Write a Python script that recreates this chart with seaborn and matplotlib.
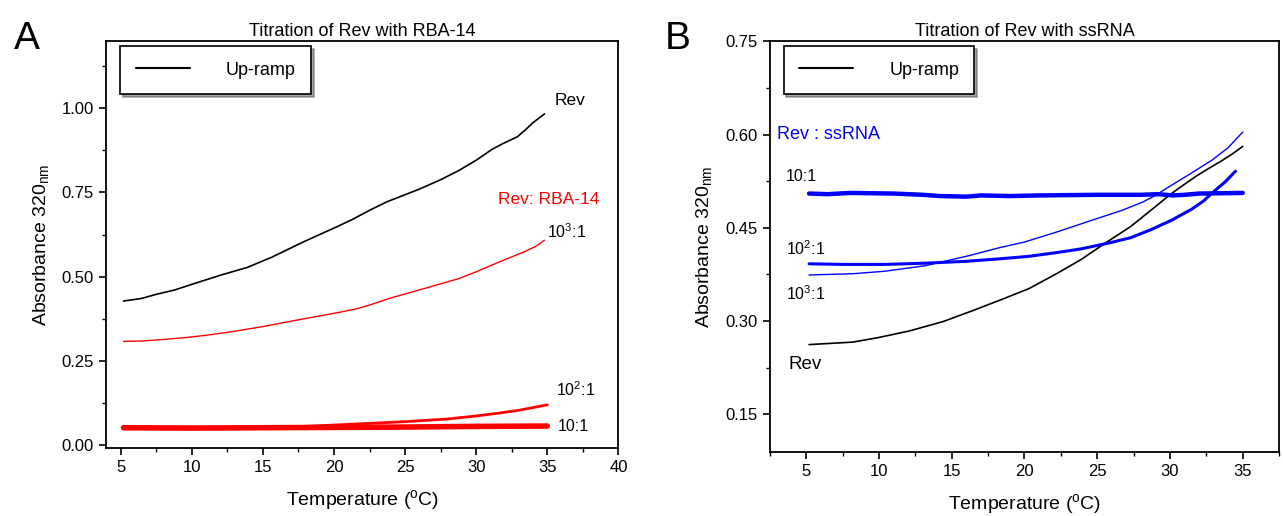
import numpy as np
import pandas as pd
import matplotlib
matplotlib.use('Agg')
import matplotlib.pyplot as plt
from matplotlib.lines import Line2D
from matplotlib.ticker import MultipleLocator, FormatStrFormatter
import seaborn as sns

# Panel A: Rev titrated with RBA-14
a_rev_t = [5.2, 6.5, 7.5, 8.8, 10.1, 12.1, 13.9, 15.6, 17.9, 20.2, 21.3, 22.5, 23.7, 26.0, 27.5, 28.8, 30.0, 31.1, 31.9, 32.9, 33.5, 34.0, 34.8]
a_rev_y = [0.427, 0.435, 0.447, 0.460, 0.478, 0.505, 0.527, 0.557, 0.604, 0.648, 0.670, 0.697, 0.722, 0.760, 0.788, 0.816, 0.846, 0.878, 0.896, 0.916, 0.938, 0.958, 0.984]
a_1e3_t = [5.2, 6.5, 8.1, 9.5, 11.0, 12.7, 15.0, 17.6, 20.2, 21.5, 22.5, 23.9, 26.0, 28.8, 30.0, 31.1, 32.3, 33.4, 34.2, 34.8]
a_1e3_y = [0.307, 0.308, 0.313, 0.318, 0.325, 0.335, 0.351, 0.372, 0.392, 0.403, 0.415, 0.435, 0.460, 0.494, 0.514, 0.534, 0.555, 0.574, 0.590, 0.608]
a_1e2_t = [5.2, 10.0, 15.0, 17.0, 20.0, 22.5, 25.0, 28.0, 30.0, 31.5, 33.0, 34.0, 35.0]
a_1e2_y = [0.050, 0.050, 0.050, 0.052, 0.058, 0.063, 0.068, 0.076, 0.085, 0.093, 0.102, 0.110, 0.118]
a_10_t = [5.2, 10.0, 15.0, 20.0, 25.0, 30.0, 35.0]
a_10_y = [0.050, 0.049, 0.050, 0.051, 0.052, 0.054, 0.055]

# Panel B: Rev titrated with ssRNA
b_rev_t = [5.2, 8.2, 9.9, 12.1, 14.4, 16.6, 18.8, 20.3, 22.2, 23.9, 25.6, 27.3, 29.0, 30.1, 31.0, 31.8, 32.7, 33.5, 34.3, 35.0]
b_rev_y = [0.262, 0.266, 0.273, 0.284, 0.299, 0.318, 0.338, 0.352, 0.376, 0.399, 0.426, 0.452, 0.484, 0.505, 0.520, 0.533, 0.546, 0.557, 0.569, 0.581]
b_1e3_t = [5.2, 8.2, 10.4, 13.2, 16.0, 18.3, 20.0, 22.2, 24.5, 26.7, 28.1, 29.0, 29.8, 31.2, 32.9, 34.0, 35.0]
b_1e3_y = [0.374, 0.376, 0.380, 0.389, 0.404, 0.418, 0.427, 0.443, 0.461, 0.478, 0.491, 0.502, 0.514, 0.534, 0.559, 0.579, 0.604]
b_1e2_t = [5.2, 7.6, 10.4, 13.2, 16.0, 18.3, 20.3, 22.2, 23.9, 25.9, 27.3, 28.7, 30.1, 31.5, 32.3, 32.9, 33.8, 34.5]
b_1e2_y = [0.392, 0.391, 0.391, 0.393, 0.396, 0.400, 0.404, 0.410, 0.416, 0.426, 0.434, 0.447, 0.462, 0.480, 0.493, 0.506, 0.524, 0.541]
b_10_t = [5.2, 6.5, 8.0, 11.0, 13.0, 14.2, 16.0, 17.0, 19.0, 21.0, 25.0, 28.0, 29.2, 30.2, 31.0, 32.0, 35.0]
b_10_y = [0.505, 0.504, 0.506, 0.505, 0.503, 0.501, 0.500, 0.502, 0.501, 0.502, 0.503, 0.503, 0.504, 0.502, 0.503, 0.505, 0.506]

sns.set_style("ticks")
plt.rcParams['font.family'] = ['Liberation Sans', 'DejaVu Sans']
plt.rcParams['mathtext.fontset'] = 'custom'
plt.rcParams['mathtext.rm'] = 'Liberation Sans'
plt.rcParams['mathtext.it'] = 'Liberation Sans'
plt.rcParams['text.color'] = 'black'
plt.rcParams['axes.labelcolor'] = 'black'
plt.rcParams['xtick.color'] = 'black'
plt.rcParams['ytick.color'] = 'black'

fig = plt.figure(figsize=(12.83, 5.16), dpi=100)
axA = fig.add_axes([0.083, 0.132, 0.399, 0.788])
axB = fig.add_axes([0.600, 0.125, 0.397, 0.795])

RED = '#ff0000'
BLUE = '#0000ff'

def draw(ax, t, y, color, lw):
    sns.lineplot(x=t, y=y, ax=ax, color=color, lw=lw, sort=False, estimator=None)

draw(axA, a_rev_t, a_rev_y, 'black', 1.2)
draw(axA, a_1e3_t, a_1e3_y, RED, 1.0)
draw(axA, a_1e2_t, a_1e2_y, RED, 2.0)
draw(axA, a_10_t, a_10_y, RED, 4.0)

draw(axB, b_rev_t, b_rev_y, 'black', 1.2)
draw(axB, b_1e3_t, b_1e3_y, BLUE, 1.0)
draw(axB, b_1e2_t, b_1e2_y, BLUE, 2.2)
draw(axB, b_10_t, b_10_y, BLUE, 3.2)

axA.set_xlim(4, 40)
axA.set_ylim(-0.01, 1.2)
axA.xaxis.set_major_locator(MultipleLocator(5))
axA.xaxis.set_minor_locator(MultipleLocator(2.5))
axA.yaxis.set_major_locator(MultipleLocator(0.25))
axA.yaxis.set_minor_locator(MultipleLocator(0.125))

axB.set_xlim(2.5, 37.5)
axB.set_ylim(0.09, 0.75)
axB.set_xticks([5, 10, 15, 20, 25, 30, 35])
axB.xaxis.set_minor_locator(MultipleLocator(2.5))
axB.yaxis.set_major_locator(MultipleLocator(0.15))
axB.yaxis.set_minor_locator(MultipleLocator(0.075))

for ax, title in [(axA, 'Titration of Rev with RBA-14'), (axB, 'Titration of Rev with ssRNA')]:
    ax.yaxis.set_major_formatter(FormatStrFormatter('%.2f'))
    for s in ax.spines.values():
        s.set_visible(True)
        s.set_linewidth(1.3)
        s.set_color('black')
    ax.tick_params(which='major', direction='out', length=5, width=1.2, labelsize=12, pad=4)
    ax.tick_params(which='minor', direction='out', length=3, width=1.0)
    ax.set_title(title, fontsize=13, pad=4)
    ax.set_xlabel('Temperature ($^{\\rm o}$C)', fontsize=14, labelpad=9)
    ax.set_ylabel('Absorbance 320$_{\\rm nm}$', fontsize=14, labelpad=8)
    h = [Line2D([0], [0], color='black', lw=1.5)]
    leg = ax.legend(h, ['Up-ramp'], loc='upper left', bbox_to_anchor=(0.027, 0.988),
                    fontsize=13, frameon=True, fancybox=False, shadow=True,
                    edgecolor='black', handlelength=3.0, handletextpad=2.0,
                    borderpad=0.85, borderaxespad=0)
    leg.get_frame().set_linewidth(1.2)
    leg.get_frame().set_alpha(1)

# panel A annotations
axA.text(35.5, 1.01, 'Rev', fontsize=12.5)
axA.text(31.5, 0.715, 'Rev: RBA-14', fontsize=12.5, color=RED)
axA.text(35.0, 0.615, '10$^{3}$:1', fontsize=11.5)
axA.text(35.6, 0.145, '10$^{2}$:1', fontsize=11.5)
axA.text(35.7, 0.040, '10:1', fontsize=11.5)

# panel B annotations
axB.text(3.0, 0.592, 'Rev : ssRNA', fontsize=13, color=BLUE)
axB.text(3.6, 0.525, '10:1', fontsize=11.5)
axB.text(3.6, 0.406, '10$^{2}$:1', fontsize=11.5)
axB.text(3.6, 0.334, '10$^{3}$:1', fontsize=11.5)
axB.text(3.8, 0.222, 'Rev', fontsize=13.5)

fig.text(0.011, 0.905, 'A', fontsize=28)
fig.text(0.518, 0.905, 'B', fontsize=28)

fig.savefig('out.png', dpi=100)
